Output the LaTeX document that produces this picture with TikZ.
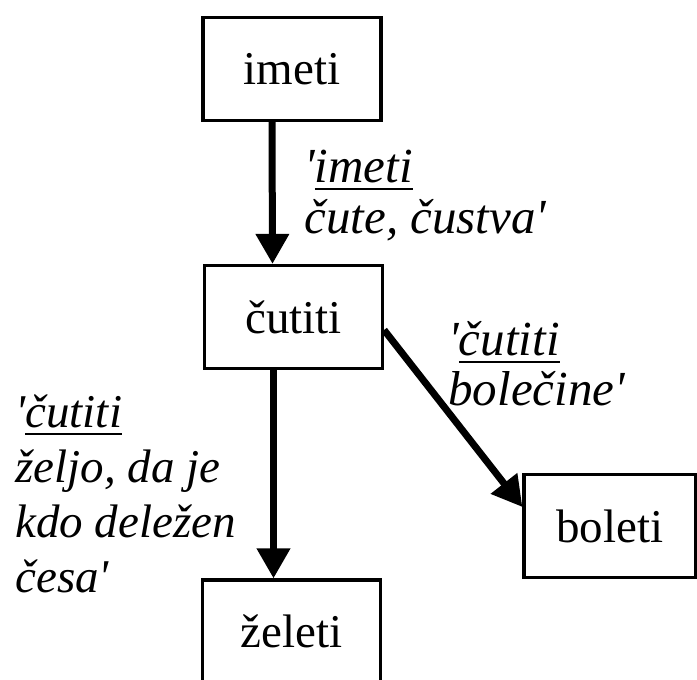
\documentclass[tikz,border=0pt]{standalone}
\usepackage{fontspec}
\setmainfont{Liberation Serif}
\usetikzlibrary{arrows.meta}
\newcommand{\apos}{\textquotesingle}
\newcommand{\podcrta}[1]{\setbox0\hbox{#1}\rlap{\vrule height -3pt depth 4.2pt width \wd0}\box0}
\tikzset{
	glagol/.style={draw, line width=1.6pt, minimum width=89pt, minimum height=51.5pt, inner sep=0pt, font=\fontsize{23.5}{26}\selectfont},
	pomen/.style 2 args={font=\fontsize{#1}{#2}\selectfont\itshape, align=left, inner sep=0pt, anchor=base west},
	povezava/.style={line width=3.5pt, -{Triangle[length=15pt,width=16pt]}}
}

\begin{document}
\begin{tikzpicture}[x=0.5pt, y=-0.5pt]
			\useasboundingbox (0,0) rectangle (697,680);
			\clip (0,0) rectangle (697,680);
			\node[glagol] (imeti) at (292,69) {imeti};
			\node[glagol] (cutiti) at (293.5,317) {čutiti};
			\node[glagol, minimum width=86pt] (boleti) at (610,526) {boleti};
			\node[glagol] (zeleti) at (291.5,631.5) {želeti};
			
			\draw[povezava] ([xshift=-10pt]imeti.south) -- ([xshift=-10.5pt]cutiti.north);
			\draw[povezava] ([xshift=-10pt]cutiti.south) -- ([xshift=-9pt]zeleti.north);
			\draw[povezava] ([yshift=-6.5pt]cutiti.east) -- ([yshift=9.5pt]boleti.west);
			
			\node[pomen={24.5}{25.5pt}] (p1) at (304,233) {\apos\podcrta{imeti}\\čute, čustva\apos};
			\node[pomen={24.5}{25pt}] (p2) at (448,405) {\apos\podcrta{čutiti}\\bolečine\apos};
			\node[pomen={23.5}{27.5pt}] (p3) at (15,592) {\apos\podcrta{čutiti}\\željo, da je\\kdo deležen\\česa\apos};
		\end{tikzpicture}
\end{document}
